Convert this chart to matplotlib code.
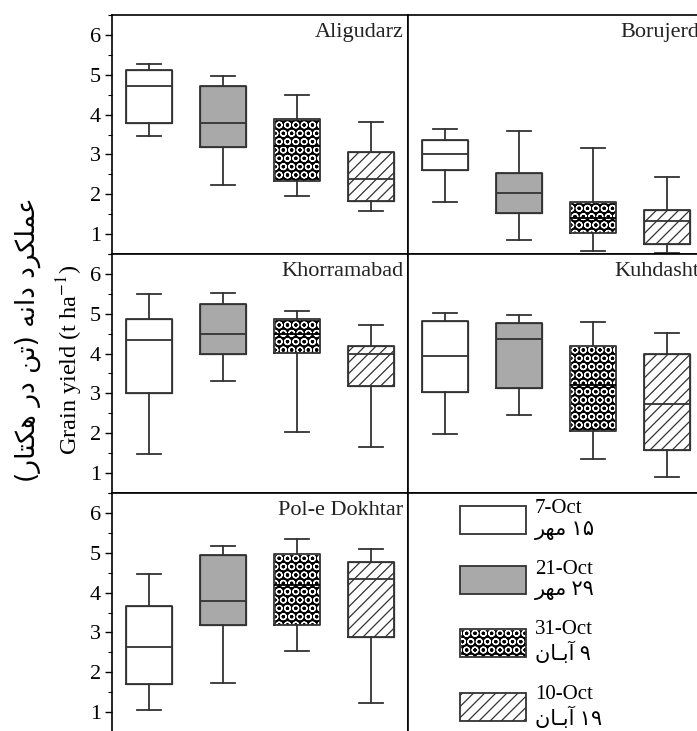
import re
import matplotlib
matplotlib.use("Agg")
import matplotlib.pyplot as plt
from matplotlib.patches import Patch
from matplotlib.ticker import MultipleLocator

plt.rcParams["font.family"] = ["Liberation Serif", "DejaVu Sans"]
plt.rcParams["mathtext.fontset"] = "stix"
plt.rcParams["hatch.linewidth"] = 0.9

# sowing dates and locations
dates = ["7-Oct", "21-Oct", "31-Oct", "10-Oct"]
dates_fa = ["۱۵ مهر", "۲۹ مهر", "۹ آبـان", "۱۹ آبـان"]
sites = ["Aligudarz", "Borujerd", "Khorramabad", "Kuhdasht", "Pol-e Dokhtar"]

# box statistics, one list per site (4 sowing dates each)
whislo = {
    "Aligudarz": [3.45, 2.22, 1.95, 1.58],
    "Borujerd": [1.81, 0.84, 0.57, 0.53],
    "Khorramabad": [1.48, 3.32, 2.03, 1.66],
    "Kuhdasht": [1.97, 2.45, 1.36, 0.90],
    "Pol-e Dokhtar": [1.04, 1.73, 2.54, 1.22],
}
q1 = {
    "Aligudarz": [3.78, 3.19, 2.34, 1.83],
    "Borujerd": [2.61, 1.53, 1.02, 0.75],
    "Khorramabad": [3.01, 3.98, 4.02, 3.18],
    "Kuhdasht": [3.04, 3.14, 2.05, 1.57],
    "Pol-e Dokhtar": [1.71, 3.18, 3.18, 2.88],
}
med = {
    "Aligudarz": [4.72, 3.78, 3.20, 2.38],
    "Borujerd": [3.00, 2.02, 1.40, 1.34],
    "Khorramabad": [4.33, 4.49, 4.50, 3.99],
    "Kuhdasht": [3.95, 4.37, 3.20, 2.74],
    "Pol-e Dokhtar": [2.63, 3.78, 4.20, 4.34],
}
q3 = {
    "Aligudarz": [5.11, 4.72, 3.88, 3.06],
    "Borujerd": [3.36, 2.53, 1.80, 1.61],
    "Khorramabad": [4.88, 5.25, 4.88, 4.18],
    "Kuhdasht": [4.83, 4.77, 4.18, 4.00],
    "Pol-e Dokhtar": [3.66, 4.95, 4.98, 4.78],
}
whishi = {
    "Aligudarz": [5.27, 4.96, 4.50, 3.81],
    "Borujerd": [3.63, 3.58, 3.15, 2.43],
    "Khorramabad": [5.49, 5.51, 5.08, 4.73],
    "Kuhdasht": [5.03, 4.97, 4.79, 4.52],
    "Pol-e Dokhtar": [4.47, 5.17, 5.34, 5.10],
}

edge = "#333333"
fills = [
    dict(facecolor="white", edgecolor=edge),
    dict(facecolor="#a9a9a9", edgecolor=edge),
    dict(facecolor="black", edgecolor="white", hatch="OO"),
    dict(facecolor="white", edgecolor=edge, hatch="///"),
]

# minimal Persian shaping (presentation forms) so the text joins correctly
FORMS = {
    "ع": "\uFEC9\uFECA\uFECB\uFECC",
    "م": "\uFEE1\uFEE2\uFEE3\uFEE4",
    "ل": "\uFEDD\uFEDE\uFEDF\uFEE0",
    "ک": "\uFB8E\uFB8F\uFB90\uFB91",
    "ن": "\uFEE5\uFEE6\uFEE7\uFEE8",
    "ه": "\uFEE9\uFEEA\uFEEB\uFEEC",
    "ت": "\uFE95\uFE96\uFE97\uFE98",
    "ب": "\uFE8F\uFE90\uFE91\uFE92",
    "ـ": "ــــ",
    "ر": "\uFEAD\uFEAE",
    "د": "\uFEA9\uFEAA",
    "ا": "\uFE8D\uFE8E",
    "آ": "\uFE81\uFE82",
}


def fa(text):
    out = []
    for i, ch in enumerate(text):
        if ch not in FORMS:
            out.append(ch)
            continue
        prev = text[i - 1] if i > 0 else " "
        nxt = text[i + 1] if i + 1 < len(text) else " "
        join_prev = prev in FORMS and len(FORMS[prev]) == 4
        join_next = len(FORMS[ch]) == 4 and nxt in FORMS
        if join_prev and join_next:
            k = 3
        elif join_prev:
            k = 1
        elif join_next:
            k = 2
        else:
            k = 0
        out.append(FORMS[ch][k])
    vis = "".join(out)[::-1]
    vis = vis.translate(str.maketrans("()", ")("))
    return re.sub(r"[۰-۹]+", lambda m: m.group()[::-1], vis)


def box_stats(site):
    return [
        dict(whislo=whislo[site][i], q1=q1[site][i], med=med[site][i],
             q3=q3[site][i], whishi=whishi[site][i], fliers=[])
        for i in range(len(dates))
    ]


fig = plt.figure(figsize=(6.97, 7.31), dpi=100)
W, H = 697, 731
col_x = [112, 408]
row_top = [15, 254, 493]
aw, ah = 296, 239

axes = {}
for r in range(3):
    for c in range(2):
        ax = fig.add_axes([col_x[c] / W, 1 - (row_top[r] + ah) / H, aw / W, ah / H])
        axes[(r, c)] = ax
        for s in ax.spines.values():
            s.set_linewidth(1.2)
        ax.set_xlim(0.5, 4.5)
        ax.set_ylim(0.5, 6.5)
        ax.set_xticks([])
        if c == 0:
            ax.yaxis.set_major_locator(MultipleLocator(1))
            ax.yaxis.set_minor_locator(MultipleLocator(0.5))
            ax.tick_params(axis="y", which="major", direction="out", length=5,
                           width=1, labelsize=16, pad=3)
            ax.tick_params(axis="y", which="minor", direction="out", length=3,
                           width=0.8)
        else:
            ax.set_yticks([])

positions = list(range(1, len(dates) + 1))
for k, site in enumerate(sites):
    ax = axes[(k // 2, k % 2)]
    stats = box_stats(site)
    # fills first
    res = ax.bxp(stats, positions=positions, widths=0.63, patch_artist=True,
                 showcaps=False, whiskerprops=dict(visible=False),
                 medianprops=dict(visible=False))
    for patch, st in zip(res["boxes"], fills):
        patch.set(**st)
        patch.set_linewidth(0.9)
    # outlines, whiskers, caps and medians on top
    out = ax.bxp(stats, positions=positions, widths=0.63, patch_artist=False,
                 boxprops=dict(color=edge, linewidth=1.3),
                 whiskerprops=dict(color=edge, linewidth=1.3),
                 capprops=dict(color=edge, linewidth=1.3),
                 medianprops=dict(color=edge, linewidth=1.3))
    # median of the dotted box disappears into the black pattern
    out["medians"][2].set_color("black")
    ax.set_xlim(0.5, 4.5)
    ax.set_xticks([])
    ax.text(0.985, 0.965, site, transform=ax.transAxes, ha="right", va="top",
            fontsize=16, color="#222222")

# legend in the empty panel
lax = axes[(2, 1)]
handles = []
for st in fills:
    if st["edgecolor"] == "white":
        handles.append((Patch(**st), Patch(facecolor="none", edgecolor=edge, linewidth=1.3)))
    else:
        handles.append(Patch(linewidth=1.3, **st))
labels = [d + "\n" + fa(p) for d, p in zip(dates, dates_fa)]
lax.legend(handles, labels, loc="upper left", bbox_to_anchor=(0.175, 0.975),
           frameon=False, fontsize=15, handlelength=3.2, handleheight=1.7,
           handletextpad=0.4, labelspacing=0.95, borderpad=0, borderaxespad=0)

fig.text(70 / W, 1 - 360 / H, "Grain yield (t ha$^{-1}$)", rotation=90,
         ha="center", va="center", fontsize=17.5)
fig.text(28 / W, 1 - 340 / H, fa("عملکرد دانه (تن در هکتار)"), rotation=90,
         ha="center", va="center", fontsize=19, family="DejaVu Sans")

fig.savefig("out.png", dpi=100)
